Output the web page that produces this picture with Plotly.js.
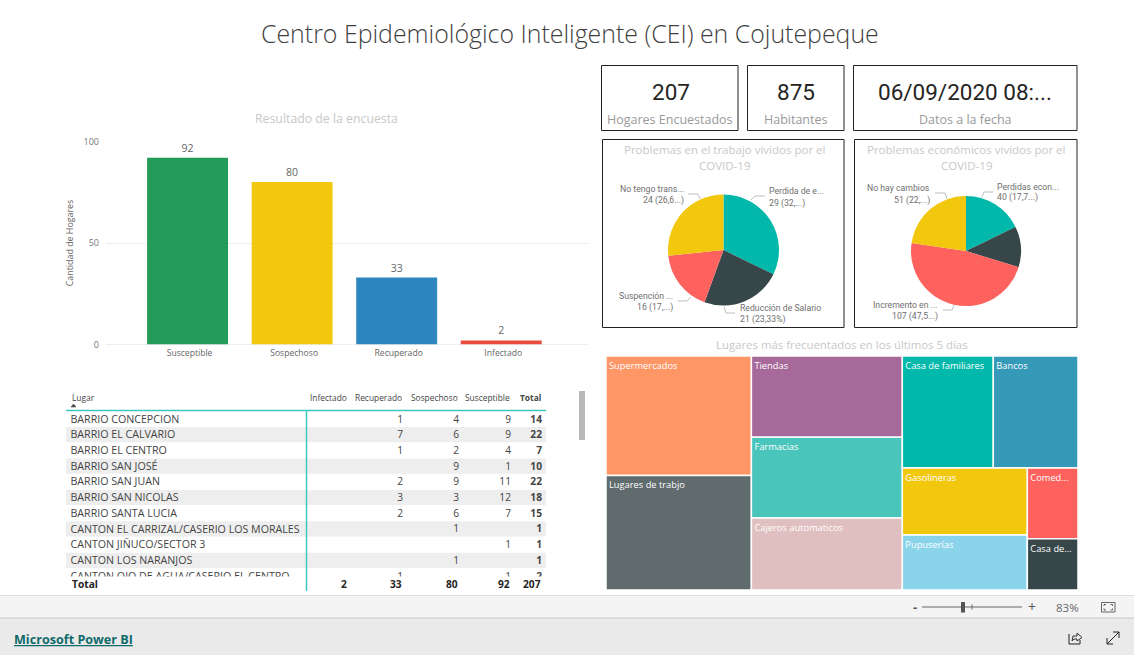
<!DOCTYPE html>
<html><head><meta charset="utf-8">
<script src="https://cdn.plot.ly/plotly-3.0.1.min.js"></script>
<style>html,body{margin:0;padding:0;background:#fff;overflow:hidden}#c{width:1134px;height:655px}</style>
</head><body><div id="c"></div>
<script>
// ---- data ----
const statusLabels = ['Susceptible','Sospechoso','Recuperado','Infectado'];
const statusValues = [92,80,33,2];
const statusColors = ['#239C5A','#F2C80F','#2E86C1','#E74C3C'];

const workLabels = ['Perdida de empleo','Reducción de Salario','Suspención temporal','No tengo transporte'];
const workValues = [29,21,16,24];
const econLabels = ['Perdidas economicas','Sin ingresos','Incremento en gastos','No hay cambios'];
const econValues = [40,27,107,51];
const pieColors = ['#01B8AA','#374649','#FD625E','#F2C80F'];

const placeLabels = ['Supermercados','Lugares de trabjo','Tiendas','Farmacias','Cajeros automaticos','Casa de familiares','Bancos','Gasolineras','Pupuserías','Comed...','Casa de...'];
const placeValues = [174,167,123,122,109,102,95,84,69,36,26];
const placeColors = ['#FE9666','#5F6B6D','#A66999','#4AC5BB','#DFBFBF','#01B8AA','#3599B8','#F2C80F','#8AD4EB','#FD625E','#374649'];

const tableHeader = ['Lugar','Infectado','Recuperado','Sospechoso','Susceptible','Total'];
const lugar = ['BARRIO CONCEPCION','BARRIO EL CALVARIO','BARRIO EL CENTRO','BARRIO SAN JOSÉ','BARRIO SAN JUAN','BARRIO SAN NICOLAS','BARRIO SANTA LUCIA','CANTON EL CARRIZAL/CASERIO LOS MORALES','CANTON JIÑUCO/SECTOR 3','CANTON LOS NARANJOS','CANTON OJO DE AGUA/CASERIO EL CENTRO'];
const infectado =   ['','','','','','','','','','',''];
const recuperado =  [1,7,1,'',2,3,2,'','','',1];
const sospechoso =  [4,6,2,9,9,3,6,1,'',1,''];
const susceptible = [9,9,4,1,11,12,7,'',1,'',1];
const totalCol =    [14,22,7,10,22,18,15,1,1,1,2];
const tableTotals = ['Total','2','33','80','92','207'];

const kpiValues = ['207','875','06/09/2020 08:...'];
const kpiNames = ['Hogares Encuestados','Habitantes','Datos a la fecha'];

// ---- helpers: page pixels to paper fractions ----
const W=1134,H=655, fx=x=>x/W, fy=y=>1-y/H;
const UI='"Open Sans","Noto Sans",sans-serif', DIN='Roboto,sans-serif';
const ann=[], shp=[];
function T(x,y,text,size,color,anchor,font,extra){
  ann.push(Object.assign({xref:'paper',yref:'paper',x:fx(x),y:fy(y),text:text,showarrow:false,xanchor:anchor||'center',yanchor:'middle',borderpad:0,
    font:{size:size,color:color,family:font||UI}},extra||{}));
}
function R(x0,y0,x1,y1,fill,line,lw,layer){
  shp.push({type:'rect',xref:'paper',yref:'paper',x0:fx(x0),x1:fx(x1),y0:fy(y0),y1:fy(y1),fillcolor:fill||'rgba(0,0,0,0)',line:{color:line||'rgba(0,0,0,0)',width:lw||0},layer:layer||'below'});
}
function P(pts,color,lw,fill,layer){
  const d=pts.map((p,i)=>(i?'L':'M')+fx(p[0])+','+fy(p[1])).join(' ')+(fill?' Z':'');
  shp.push({type:'path',xref:'paper',yref:'paper',path:d,line:{color:color,width:lw||1},fillcolor:fill||'rgba(0,0,0,0)',layer:layer||'below'});
}

// page title
T(570,33.5,'Centro Epidemiológico Inteligente (CEI) en Cojutepeque',24.9,'#3f3f3f','center',UI,{font:{size:24.9,color:'#3f3f3f',family:UI,weight:300}});

// kpi cards
[[601.5,738],[747.5,844],[853.5,1077]].forEach((b,i)=>{
  R(b[0],65.5,b[1],130.5,'#fff','#222',1);
  T((b[0]+b[1])/2+(i==0?1:0),92,kpiValues[i],22.5,'#252423','center',DIN,{font:{size:22.5,color:'#252423',family:DIN,weight:400}});
  T((b[0]+b[1])/2,119,kpiNames[i],12.5,'#999999');
});
// pie cards
[[602.5,844],[854.5,1077]].forEach(b=>R(b[0],139.5,b[1],327.5,'#fff','#222',1));
T(724,149,'Problemas en el trabajo vividos por el',11.5,'#c8c8c8');
T(724,166,'COVID-19',11.5,'#c8c8c8');
T(966,149,'Problemas económicos vividos por el',11.5,'#c8c8c8');
T(966,166,'COVID-19',11.5,'#c8c8c8');
T(326,118.5,'Resultado de la encuesta',12.3,'#c8c8c8');
T(842,344,'Lugares más frecuentados en los últimos 5 días',11.4,'#c8c8c8');

// pie data labels and leaders
const pl='#6f6f6f', ll='#bdbdbd', ps=8.7;
T(768,191,'Perdida de e...',ps,pl,'left',DIN); T(768,203,'29 (32,...)',ps,pl,'left',DIN);
P([[751,200],[755,196],[765,196]],ll);
T(685,189,'No tengo trans...',ps,pl,'right',DIN); T(685,200,'24 (26,6...)',ps,pl,'right',DIN);
P([[688,194],[698,194],[700,199]],ll);
T(674,296,'Suspención ...',ps,pl,'right',DIN); T(674,307,'16 (17,...)',ps,pl,'right',DIN);
P([[678,301],[687,301],[691,297]],ll);
T(739,308,'Reducción de Salario',ps,pl,'left',DIN); T(739,319,'21 (23,33%)',ps,pl,'left',DIN);
P([[724,307],[726,313],[735,313]],ll);
T(931,188,'No hay cambios',ps,pl,'right',DIN); T(931,200,'51 (22,...)',ps,pl,'right',DIN);
P([[935,193],[945,193],[947,199]],ll);
T(996,187,'Perdidas econ...',ps,pl,'left',DIN); T(996,198,'40 (17,7...)',ps,pl,'left',DIN);
P([[982,197],[984,192],[993,192]],ll);
T(939,305,'Incremento en ...',ps,pl,'right',DIN); T(939,317,'107 (47,5...)',ps,pl,'right',DIN);
P([[943,310],[952,310],[954,305]],ll);

// table furniture
const colRight=[null,348,403,459,511,542];
const ROW0=419, ROWH=15.7;
[1,3,5,7,9].forEach(i=>R(66,ROW0+i*ROWH-7.6,546,ROW0+i*ROWH+7.6,'#eeeeee'));
P([[66,410.5],[546,410.5]],'#3CC8BC',1.5,null,'above');
P([[306.5,410],[306.5,591]],'#3CC8BC',1.5,null,'above');
P([[71,407],[73.5,404],[76,407]],'#444',0.5,'#444');
R(579,391,585,440,'#b8b8b8');
T(70.5,397,tableHeader[0],8.4,'#444','left');
tableHeader.slice(1).forEach((v,i)=>T(colRight[i+1],397,i==4?'<b>'+v+'</b>':v,8.4,'#444','right'));
T(70.5,583.5,'<b>'+tableTotals[0]+'</b>',10.2,'#252423','left');
tableTotals.slice(1).forEach((v,i)=>T(colRight[i+1],583.5,'<b>'+v+'</b>',10.2,'#252423','right'));

// bottom chrome
R(0,596,1134,618,'#f4f4f4');
P([[0,595.5],[1134,595.5]],'#dddddd',1);
R(0,618,1134,655,'#eaeaea');
P([[0,618],[1134,618]],'#c8c8c8',1);
T(915,607,'<b>-</b>',13,'#555');
P([[922,607],[1022,607]],'#666',1);
R(961,602,965,612.5,'#555');
P([[972,604.5],[972,609.5]],'#666',1);
T(1032,606.5,'+',14,'#555');
T(1067,607,'83%',11.5,'#666');
R(1101.5,602.5,1115,612,'#f4f4f4','#666',1);
P([[1104,606],[1104,604.5],[1106,604.5]],'#666',1);
P([[1110.5,604.5],[1112.5,604.5],[1112.5,606]],'#666',1);
P([[1104,608.5],[1104,610],[1106,610]],'#666',1);
P([[1110.5,610],[1112.5,610],[1112.5,608.5]],'#666',1);
T(73,639,'<u><b>Microsoft Power BI</b></u>',12.6,'#0F6B6B');
P([[1069,634],[1069,644],[1080,644],[1080,640]],'#222',1);
P([[1072,641],[1073,636],[1077,636],[1077,633],[1082,637.5],[1077,641],[1077,639],[1074,639],[1072,641]],'#333',1);
P([[1107,644],[1119,632]],'#222',1);
P([[1113,632],[1119,632],[1119,638]],'#222',1);
P([[1107,638],[1107,644],[1113,644]],'#222',1);

// table columns drawn as text marks on their own (hidden) pixel-aligned axes
function col(vals,x,pos,bold,size){
  const idx=vals.map((_,i)=>i);
  return {type:'scatter',mode:'text',xaxis:'x2',yaxis:'y2',x:idx.map(()=>x),y:idx,
    text:vals.map(v=>bold?'<b>'+v+'</b>':String(v)),textposition:pos,cliponaxis:true,
    textfont:{size:size||10.2,color:'#444',family:UI},hoverinfo:'skip',showlegend:false};
}

// ---- traces ----
const traces=[
 {type:'bar',x:statusLabels,y:statusValues,text:statusValues.map(String),textposition:'outside',cliponaxis:false,
  marker:{color:statusColors},textfont:{size:10.5,color:'#666',family:UI},hoverinfo:'x+y'},
 {type:'pie',values:workValues,labels:workLabels,sort:false,direction:'clockwise',rotation:0,
  marker:{colors:pieColors,line:{width:0}},textinfo:'none',showlegend:false,
  domain:{x:[fx(668),fx(779)],y:[fy(306),fy(194)]}},
 {type:'pie',values:econValues,labels:econLabels,sort:false,direction:'clockwise',rotation:0,
  marker:{colors:pieColors,line:{width:0}},textinfo:'none',showlegend:false,
  domain:{x:[fx(911),fx(1021)],y:[fy(306),fy(196)]}},
 {type:'treemap',labels:placeLabels,parents:placeLabels.map(()=>''),values:placeValues,
  marker:{colors:placeColors,line:{color:'#fff',width:1.5},depthfade:false,pad:{t:0,l:0,r:0,b:0}},
  textinfo:'label',textposition:'top left',textfont:{size:9.3,color:'#fff',family:UI},
  tiling:{packing:'squarify',pad:0,squarifyratio:1.618},pathbar:{visible:false},sort:true,
  domain:{x:[fx(606),fx(1078)],y:[fy(590),fy(356)]}},
 col(lugar,70.5,'middle right',false,10.65),
 col(infectado,colRight[1],'middle left'),
 col(recuperado,colRight[2],'middle left'),
 col(sospechoso,colRight[3],'middle left'),
 col(susceptible,colRight[4],'middle left'),
 col(totalCol,colRight[5],'middle left',true)
];

const TXT0=ROW0+1;
const layout={width:W,height:H,margin:{l:0,r:0,t:0,b:0},showlegend:false,paper_bgcolor:'#fff',plot_bgcolor:'rgba(0,0,0,0)',
 uniformtext:{minsize:9.3,mode:'show'},
 xaxis:{domain:[fx(106),fx(588)],range:[-0.78,3.83],type:'category',showgrid:false,showline:false,ticks:'',
   tickfont:{size:8.6,color:'#666',family:UI},ticklabelshift:2,ticklabelstandoff:2,anchor:'y',fixedrange:true},
 yaxis:{domain:[fy(344.5),fy(141.5)],range:[0,100],tickvals:[0,50,100],gridcolor:'#eeeeee',zerolinecolor:'#eeeeee',zerolinewidth:1,ticks:'',
   tickfont:{size:9,color:'#777',family:UI},ticklabelstandoff:6,fixedrange:true,
   title:{text:'Cantidad de Hogares',font:{size:8.9,color:'#666',family:UI},standoff:8}},
 xaxis2:{domain:[fx(66),fx(546)],range:[66,546],visible:false,anchor:'y2',fixedrange:true},
 yaxis2:{domain:[fy(576.5),fy(410)],range:[(576.5-TXT0)/ROWH,(410-TXT0)/ROWH],visible:false,anchor:'x2',fixedrange:true},
 bargap:0.226,annotations:ann,shapes:shp};
Plotly.newPlot('c',traces,layout,{displayModeBar:false,responsive:false});
</script></body></html>
